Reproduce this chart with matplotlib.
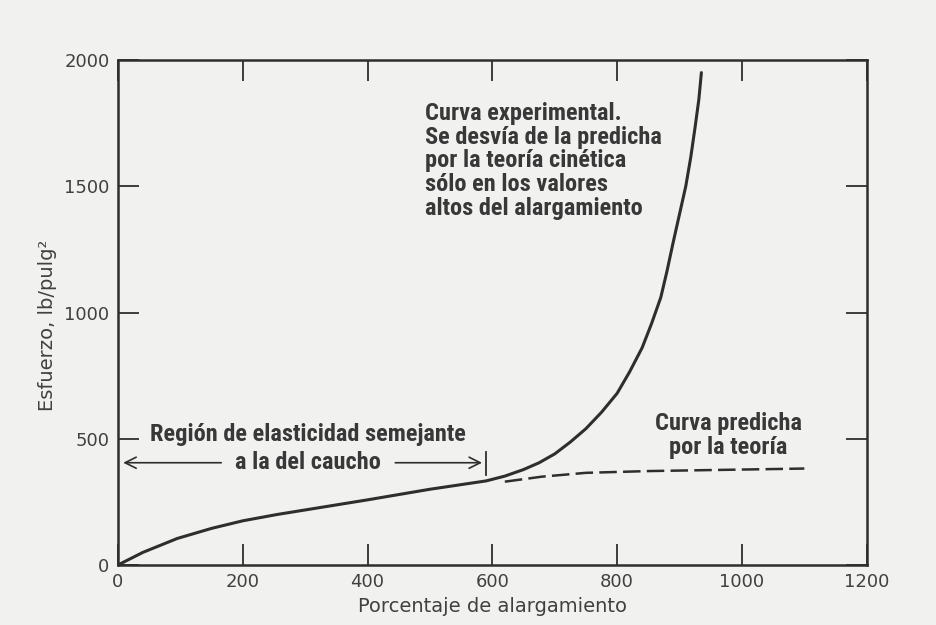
import matplotlib
matplotlib.use("Agg")
import matplotlib.pyplot as plt
from matplotlib import font_manager
from matplotlib.font_manager import FontProperties

# Datos (curva experimental)
exp_x = [0, 40, 95, 150, 200, 255, 305, 400, 500, 590, 620, 650, 675, 700, 725, 750,
         775, 800, 820, 840, 855, 870, 880, 890, 900, 910, 918, 925, 931, 935]
exp_y = [0, 50, 105, 145, 175, 200, 220, 258, 300, 333, 352, 378, 405, 440, 487, 540,
         605, 680, 765, 860, 955, 1060, 1165, 1280, 1390, 1500, 1615, 1735, 1845, 1950]

# Curva predicha por la teoria
teo_x = [620, 680, 750, 850, 1000, 1100]
teo_y = [330, 350, 365, 372, 378, 382]

x_ticks = [0, 200, 400, 600, 800, 1000, 1200]
y_ticks = [0, 500, 1000, 1500, 2000]

region_end = 590      # fin de la region de elasticidad
region_y = 405        # altura de la flecha

lineas_exp = ["Curva experimental.",
              "Se desvía de la predicha",
              "por la teoría cinética",
              "sólo en los valores",
              "altos del alargamiento"]
y_lineas_exp = [1790, 1695, 1600, 1505, 1410]
lineas_teo = ["Curva predicha", "por la teoría"]
y_lineas_teo = [560, 465]


def buscar_fuente(bold):
    # Buscar una fuente condensada instalada
    preferidas = ["Liberation Sans Narrow", "DejaVu Sans Condensed", "Roboto Condensed",
                  "Open Sans Condensed", "Noto Sans Condensed", "Noto Sans", "DejaVu Sans"]
    mejores = []
    for f in font_manager.fontManager.ttflist:
        if f.style != "normal":
            continue
        w = f.weight if isinstance(f.weight, int) else font_manager.weight_dict.get(f.weight, 400)
        if bold and w < 600:
            continue
        if not bold and (w < 350 or w > 500):
            continue
        st = str(f.stretch).lower()
        nombre = f.name + " " + st
        cond = ("narrow" in nombre.lower() or "condensed" in nombre.lower()
                or st in ("condensed", "semi-condensed", "extra-condensed", "75", "87", "62"))
        if not cond:
            continue
        rango = preferidas.index(f.name) if f.name in preferidas else len(preferidas)
        if "extra" in nombre.lower() or "ultra" in nombre.lower():
            rango += 20
        mejores.append((rango, f.fname))
    if mejores:
        mejores.sort()
        return FontProperties(fname=mejores[0][1])
    return FontProperties(family="DejaVu Sans", weight="bold" if bold else "normal")


fp_bold = buscar_fuente(True)

ink = "#2e2e2e"
txt = "#383838"
paper = "#f1f2f0"

fig = plt.figure(figsize=(9.36, 6.25), dpi=100)
fig.patch.set_facecolor(paper)
ax = fig.add_axes([0.126, 0.096, 0.800, 0.808])
ax.set_facecolor(paper)

# Ajustar el tamano de letra para que "Curva experimental." mida ~196 px
renderer = fig.canvas.get_renderer()
prueba = fig.text(0, 0, lineas_exp[0], fontproperties=fp_bold, fontsize=10)
ancho = prueba.get_window_extent(renderer).width
prueba.remove()
ann_size = 10 * 196 / ancho
fp_ann = fp_bold.copy()
fp_ann.set_size(ann_size)

ax.plot(exp_x, exp_y, color=ink, lw=2.2, solid_capstyle="round", solid_joinstyle="round")
ax.plot(teo_x, teo_y, color=ink, lw=1.8, dashes=(7, 2.5))

ax.set_xlim(0, 1200)
ax.set_ylim(0, 2000)
ax.set_xticks(x_ticks)
ax.set_yticks(y_ticks)
ax.tick_params(direction="in", length=15, width=1.3, color=ink,
               top=True, right=True, labelsize=13, labelcolor="#404040", pad=6)
for s in ax.spines.values():
    s.set_linewidth(1.8)
    s.set_color(ink)

ax.set_xlabel("Porcentaje de alargamiento", fontsize=14, color="#404040", labelpad=4)
ax.set_ylabel("Esfuerzo, lb/pulg²", fontsize=14, color="#404040")
ax.yaxis.set_label_coords(-0.081, 0.475)

# Region de elasticidad con flechas
arrow = dict(arrowstyle="->", color=ink, lw=1.2, mutation_scale=20)
ax.annotate("", xy=(4, region_y), xytext=(170, region_y), arrowprops=arrow)
ax.annotate("", xy=(region_end - 2, region_y), xytext=(440, region_y), arrowprops=arrow)
ax.plot([region_end, region_end], [region_y - 47, region_y + 42], color=ink, lw=1.3)

ax.text(305, 515, "Región de elasticidad semejante", ha="center", va="center",
        fontproperties=fp_ann, color=txt)
ax.text(305, region_y, "a la del caucho", ha="center", va="center",
        fontproperties=fp_ann, color=txt)

for linea, yy in zip(lineas_exp, y_lineas_exp):
    ax.text(492, yy, linea, ha="left", va="center", fontproperties=fp_ann, color=txt)
for linea, yy in zip(lineas_teo, y_lineas_teo):
    ax.text(978, yy, linea, ha="center", va="center", fontproperties=fp_ann, color=txt)

fig.savefig("out.png", dpi=100, facecolor=paper)
